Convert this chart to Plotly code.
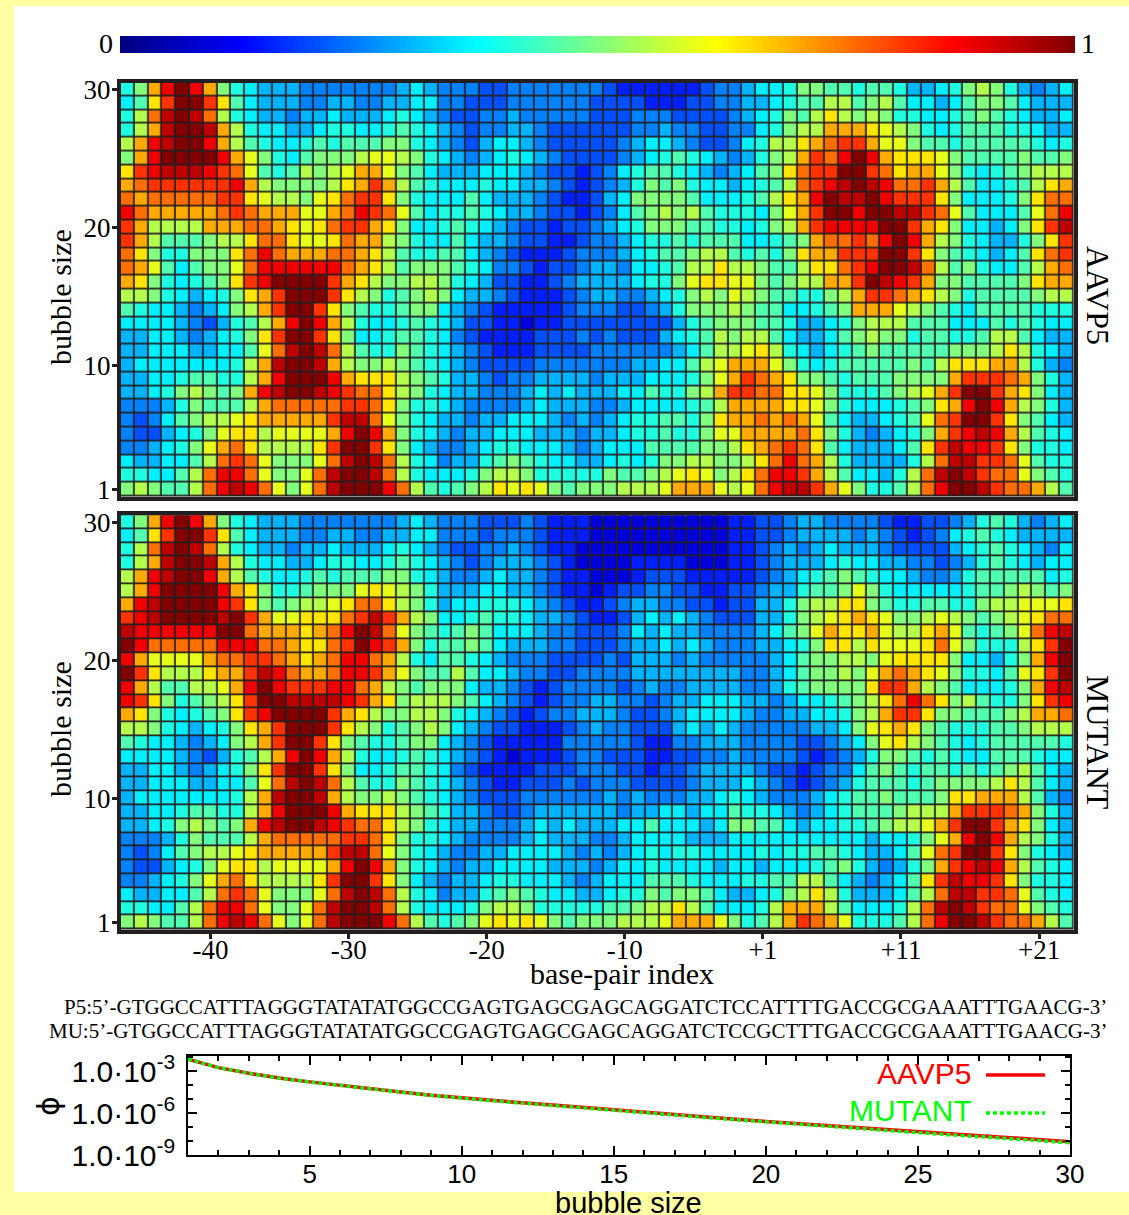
import numpy as np
import plotly.graph_objects as go

W, H = 1129, 1215
YELLOW = "#ffffa3"
FRAME = "#231f20"

# one character per cell: index into LEVELS
LEVELS = [0.09, 0.154, 0.203, 0.252, 0.301, 0.36, 0.404, 0.453, 0.502,
          0.551, 0.60, 0.65, 0.708, 0.767, 0.826, 0.89, 0.94, 0.998]

BUBBLE_SIZES = list(range(30, 0, -1))
X_TICK_COLS = [6, 16, 26, 36, 46, 56, 66]
X_TICK_TEXT = ["-40", "-30", "-20", "-10", "+1", "+11", "+21"]
Y_TICK_VALS = [30, 20, 10, 1]

AAVP5_ROWS = [
    "68cfhfc86544433333334543" "332233333332111111233455" "688776776445689864345",
    "57behheb7544433443344553" "322233333322221112233445" "677997897554578875444",
    "69dghgd96544344544456543" "223343333322233322223456" "879b98986655678765445",
    "69cghhgc9655445665567654" "323344322222233433223356" "899cccba9865677766544",
    "9cfghhfc9765567677788654" "324554322222345543223569" "9bcdeecaa877677777656",
    "8cfhhhhfca86578889aa9865" "434565432222345676543468" "9cedfhfcbbba877778778",
    "befgggfeda767989acca8754" "445554322123567765434578" "bdeehhedbcca865678999",
    "cdeeeeeefc988889bcec9765" "556554432123468786554567" "9defghgfddec9755679bc",
    "dcdddddeeba998abdeeb8655" "575444321124588887555679" "bcfhgghfeeeb855568bdd",
    "fdcccccdedcccaacdfeda756" "676544322123578989766658" "acehhfhhggeda75557adf",
    "ec9999cccddcbabdeecb8556" "765432212234568887766568" "9ceffffhhecb855458beg",
    "ec9777899bddbaabdcc98655" "754432211233456676777556" "78cddedfhfc98654468be",
    "db866888bdfdcccddcb97667" "754321112333456778997676" "8bcceeehheb8765457bde",
    "dca75788adffffffdcb97888" "7653321223443556799b9987" "79bbdefhhgd97865579cd",
    "cb865678befhhhhecb988998" "65422112344445668abbaa87" "899ccehgfec8877778bcc",
    "998654568bcehhheb9867898" "54432111234433456898a987" "76689ceedcb9867777899",
    "7655434589cehheb87667885" "432111112333223468889877" "55678ccca987657777666",
    "55554324679cfhfc96556765" "422110112222222246788877" "644568999777555767655",
    "4455434568behheb85567765" "321111222323222456798997" "544578988677667997544",
    "4455544557adghgd97668765" "432111222233333345799ab9" "6545678777778889b9654",
    "4555555569cghhgc98898765" "4322223333333445579accca" "865677777879bbbcc9643",
    "4455677669cfhhhfcbbb9876" "4432334444344455568acedc" "b88767778888ceeedc864",
    "445689878cfghhgfeddb9865" "4433345454445576689ceedd" "bba8666789acehhecb854",
    "3334687779cdddddeedb8665" "43333454443345555679cccc" "bba86555678bcfhfc9864",
    "32357899abccccceggda8654" "4344555434345667768bccdc" "dca7544567adehheb8754",
    "3224568abb9aaaacfhfc8654" "3445554443445667668aaccc" "cdb86434568cefgfc9765",
    "334568acdb9999behheb8543" "345665554345557777889bcd" "edb7544457begffeb8665",
    "5445579deda888adghgd9653" "4467876554456568899889bd" "fdc96444469dggeeda766",
    "665579dffda88adghhgd9655" "5689986666687789aba89bdf" "fec9755469dghgedda876",
    "898779dfgfda8adghhhfd976" "789baba87888999accca9adf" "ggeca86679dfhhgeddc97",
]

MUTANT_ROWS = [
    "68cfhfc86544433333334543" "332223211100000000001122" "344333321122346764345",
    "57behheb7544433443344553" "332333211100000000001122" "344443432123567654444",
    "69dghgd96544344544456543" "223343211000000000001123" "434544432222456765435",
    "69cghhgc9655445665567654" "323444321000011110001123" "444565544332346765455",
    "9cfghhfc9765567677788654" "334544321100012221111123" "456787655433467777756",
    "9cfhhhhfcb8667888aba9864" "445544321101223322112234" "46778a865555567789878",
    "cfghhhhfeb87899abddb9864" "556665432112344332212244" "6899bb87667766899aaab",
    "efghhhhghecaabbbdegec985" "567665443211245454322244" "689abcba889a98789abdd",
    "gffffffhhdcccbcdfhgda876" "787555433222354544333345" "78acbbca99bca7678adfg",
    "hfdddddfffddcbbdehfec867" "787544433222344545433344" "568bb9baaabda86669beh",
    "fcaaaacddeedcbcdffdc9657" "765433322223244434333334" "5788998abbbb855468cfh",
    "heb999bccegfdccdffeca877" "975543322333344444444334" "578898acdcba86657abeh",
    "fc97799acfhfeeeffdc98788" "854432123333234334444334" "678888beec98755568cfg",
    "feb86789behhggggfecb8999" "875432123344332344555443" "4556789bdfdb897668bef",
    "cb865678befhhhhecb988998" "654321233444322345555433" "4455689ceeb8877789ccd",
    "998654568bcehhheb9867898" "543221112343322245454333" "334458abcb87666778999",
    "7655434589cehheb87667885" "432111113333321133444333" "3223458ab987656777776",
    "55554324679cfhfc96556765" "432101112332221122334333" "321234688767655777655",
    "4455434568behheb85567765" "321111222333221223444432" "212335787677676789754",
    "4455544557adghgd97668765" "432112223233322223444543" "2123467776788889b9754",
    "4555555569cghhgc98898765" "432223333334343334456543" "334567787778bbccc9743",
    "4455677669cfhhhfcbbb9876" "443223444444344554557665" "434567778999ceeedc864",
    "445689878cfghhgfeddb9865" "443334545444557555458877" "5455667899acehhecb854",
    "3334687779cdddddeedb8665" "433334544433455554445555" "55555545568acfhfc9864",
    "32357899abccccceggda8654" "334455554343456566555565" "6677654457adehheb8654",
    "3224568abb9aaaacfhfc8654" "344555544434556555545545" "55678643468cefgfc9765",
    "334568acdb9999behheb8543" "445665554345557776555667" "7997543457begffeb8665",
    "5445579deda888adghgd9653" "446787655445668788754456" "89b96444579dggeeda765",
    "665579dffda88adghhgd9655" "5689986666677899b9755569" "ccc9755569dghgedda876",
    "898779dfgfda8adghhhfd976" "78ababa87888999accca8679" "cedca66679dfhhgeddc97",
]

PHI_SIZES = list(range(1, 31))
AAVP5_LOG_PHI = [-2.14, -2.75, -3.15, -3.50, -3.77, -4.03, -4.27, -4.50, -4.73, -4.93,
                 -5.10, -5.27, -5.42, -5.60, -5.76, -5.94, -6.10, -6.27, -6.44, -6.60,
                 -6.75, -6.90, -7.05, -7.20, -7.35, -7.50, -7.63, -7.78, -7.92, -8.05]
MUTANT_LOG_PHI = [-2.14, -2.75, -3.16, -3.51, -3.78, -4.04, -4.28, -4.51, -4.74, -4.95,
                  -5.12, -5.29, -5.45, -5.63, -5.79, -5.97, -6.13, -6.31, -6.48, -6.64,
                  -6.80, -6.95, -7.10, -7.25, -7.40, -7.55, -7.69, -7.84, -7.98, -8.12]

SEQ_P5 = "P5:5’-GTGGCCATTTAGGGTATATATGGCCGAGTGAGCGAGCAGGATCTCCATTTTGACCGCGAAATTTGAACG-3’"
SEQ_MU = "MU:5’-GTGGCCATTTAGGGTATATATGGCCGAGTGAGCGAGCAGGATCTCCGCTTTGACCGCGAAATTTGAACG-3’"

JET = [[0, "rgb(0,0,128)"], [0.125, "rgb(0,0,255)"], [0.375, "rgb(0,255,255)"],
       [0.625, "rgb(255,255,0)"], [0.875, "rgb(255,0,0)"], [1, "rgb(128,0,0)"]]


def decode(rows):
    bad = [(i, len(r)) for i, r in enumerate(rows) if len(r) != 69]
    if bad:
        raise ValueError(bad)
    return [[LEVELS[int(c, 36)] for c in r] for r in rows]


def fx(px):
    return px / W


def fy(py):
    return 1 - py / H


fig = go.Figure()
for rows, xa, ya in [(AAVP5_ROWS, "x", "y"), (MUTANT_ROWS, "x2", "y2")]:
    fig.add_trace(go.Heatmap(z=decode(rows), y=BUBBLE_SIZES, colorscale=JET, zmin=0, zmax=1,
                             xgap=1.7, ygap=1.7, showscale=False, xaxis=xa, yaxis=ya))

fig.add_trace(go.Heatmap(z=[list(np.linspace(0, 1, 256))], colorscale=JET, zmin=0, zmax=1,
                         showscale=False, xaxis="x3", yaxis="y3"))

fig.add_trace(go.Scatter(x=PHI_SIZES, y=[10 ** v for v in AAVP5_LOG_PHI], mode="lines",
                         line=dict(color="#ff0000", width=3.5), xaxis="x4", yaxis="y4",
                         showlegend=False))
fig.add_trace(go.Scatter(x=PHI_SIZES, y=[10 ** v for v in MUTANT_LOG_PHI], mode="lines",
                         line=dict(color="#00ff00", width=3.5, dash="4px,3px"), xaxis="x4",
                         yaxis="y4", showlegend=False))

SERIF = "Liberation Serif"
SANS = "Liberation Sans"
frame_axis = dict(showline=True, mirror=True, linecolor=FRAME, linewidth=4,
                  tickcolor=FRAME, tickwidth=3, ticklen=5, showgrid=False, zeroline=False,
                  tickfont=dict(family=SERIF, size=27, color="#000"))

X0, X1 = 120.8, 1073.6
layout = dict(
    width=W, height=H, margin=dict(l=0, r=0, t=0, b=0, autoexpand=False),
    paper_bgcolor=YELLOW, plot_bgcolor="#ffffff", showlegend=False,
    xaxis=dict(domain=[fx(X0), fx(X1)], range=[-0.5, 68.5], anchor="y", showticklabels=False,
               ticks="", **frame_axis),
    yaxis=dict(domain=[fy(496.5), fy(82.5)], range=[0.5, 30.5], anchor="x", ticks="outside",
               tickvals=Y_TICK_VALS, ticklabelstandoff=-4, **frame_axis),
    xaxis2=dict(domain=[fx(X0), fx(X1)], range=[-0.5, 68.5], anchor="y2", ticks="outside",
                tickvals=X_TICK_COLS, ticktext=X_TICK_TEXT, ticklabelstandoff=-12, **frame_axis),
    yaxis2=dict(domain=[fy(929.5), fy(515.2)], range=[0.5, 30.5], anchor="x2", ticks="outside",
                tickvals=Y_TICK_VALS, ticklabelstandoff=-4, **frame_axis),
    xaxis3=dict(domain=[fx(120), fx(1075)], anchor="y3", visible=False),
    yaxis3=dict(domain=[fy(53), fy(36)], anchor="x3", visible=False),
    xaxis4=dict(domain=[fx(188), fx(1070)], range=[1, 30], anchor="y4", showline=True,
                mirror="ticks", linecolor="#000", linewidth=1.5, ticks="inside", ticklen=9,
                tickwidth=1.5, tickcolor="#000", tickvals=[5, 10, 15, 20, 25, 30], showgrid=False,
                zeroline=False, tickfont=dict(family=SANS, size=26, color="#000"),
                ticklabelstandoff=-5,
                minor=dict(tickvals=list(range(1, 31)), ticks="inside", ticklen=5,
                           tickwidth=1.5, tickcolor="#000")),
    yaxis4=dict(domain=[fy(1155), fy(1056)], type="log", range=[-9, -1.92], anchor="x4",
                showline=True, mirror="ticks", linecolor="#000", linewidth=1.5, ticks="inside",
                ticklen=9, tickwidth=1.5, tickcolor="#000", showgrid=False, zeroline=False,
                tickvals=[1e-9, 1e-6, 1e-3], ticklabelstandoff=5,
                ticktext=["1.0·10<sup>-9</sup>", "1.0·10<sup>-6</sup>", "1.0·10<sup>-3</sup>"],
                tickfont=dict(family=SANS, size=30, color="#000"),
                minor=dict(tickvals=[10.0 ** e for e in range(-9, -1)], ticks="inside",
                           ticklen=5, tickwidth=1.5, tickcolor="#000")),
    shapes=[
        dict(type="rect", xref="paper", yref="paper", x0=fx(14), x1=1, y0=fy(1192), y1=fy(6),
             fillcolor="#ffffff", line_width=0, layer="below"),
        dict(type="rect", xref="paper", yref="paper", x0=fx(X0), x1=fx(X1), y0=fy(496.5),
             y1=fy(82.5), fillcolor=FRAME, line_width=0, layer="below"),
        dict(type="rect", xref="paper", yref="paper", x0=fx(X0), x1=fx(X1), y0=fy(929.5),
             y1=fy(515.2), fillcolor=FRAME, line_width=0, layer="below"),
        dict(type="line", xref="paper", yref="paper", x0=fx(986), x1=fx(1045), y0=fy(1075),
             y1=fy(1075), line=dict(color="#ff0000", width=3.5)),
        dict(type="line", xref="paper", yref="paper", x0=fx(986), x1=fx(1045), y0=fy(1113),
             y1=fy(1113), line=dict(color="#00ff00", width=3.5, dash="4px,3px")),
    ],
)


def note(text, x, y, size, family=SERIF, color="#000", angle=0, xanchor="center"):
    return dict(text=text, x=fx(x), y=fy(y), xref="paper", yref="paper", showarrow=False,
                textangle=angle, xanchor=xanchor, yanchor="middle",
                font=dict(family=family, size=size, color=color))


layout["annotations"] = [
    note("0", 106, 44, 28),
    note("1", 1088, 44, 28),
    note("bubble size", 60, 297, 30, angle=-90),
    note("bubble size", 60, 729, 30, angle=-90),
    note("AAVP5", 1098, 295, 32, angle=90),
    note("MUTANT", 1098, 742, 32, angle=90),
    note("base-pair index", 622, 973, 30),
    note(SEQ_P5, 1109, 1007, 21, xanchor="right"),
    note(SEQ_MU, 1109, 1031, 21, xanchor="right"),
    note("ϕ", 48, 1106, 30, family="DejaVu Sans", angle=-90),
    note("bubble size", 628, 1203, 29, family=SANS),
    note("AAVP5", 974, 1073, 30, family=SANS, color="#ff0000", xanchor="right"),
    note("MUTANT", 974, 1110, 30, family=SANS, color="#00ff00", xanchor="right"),
]
fig.update_layout(**layout)
fig.write_html("out.html", config=dict(displayModeBar=False),
               post_script="document.body.style.margin='0';")
